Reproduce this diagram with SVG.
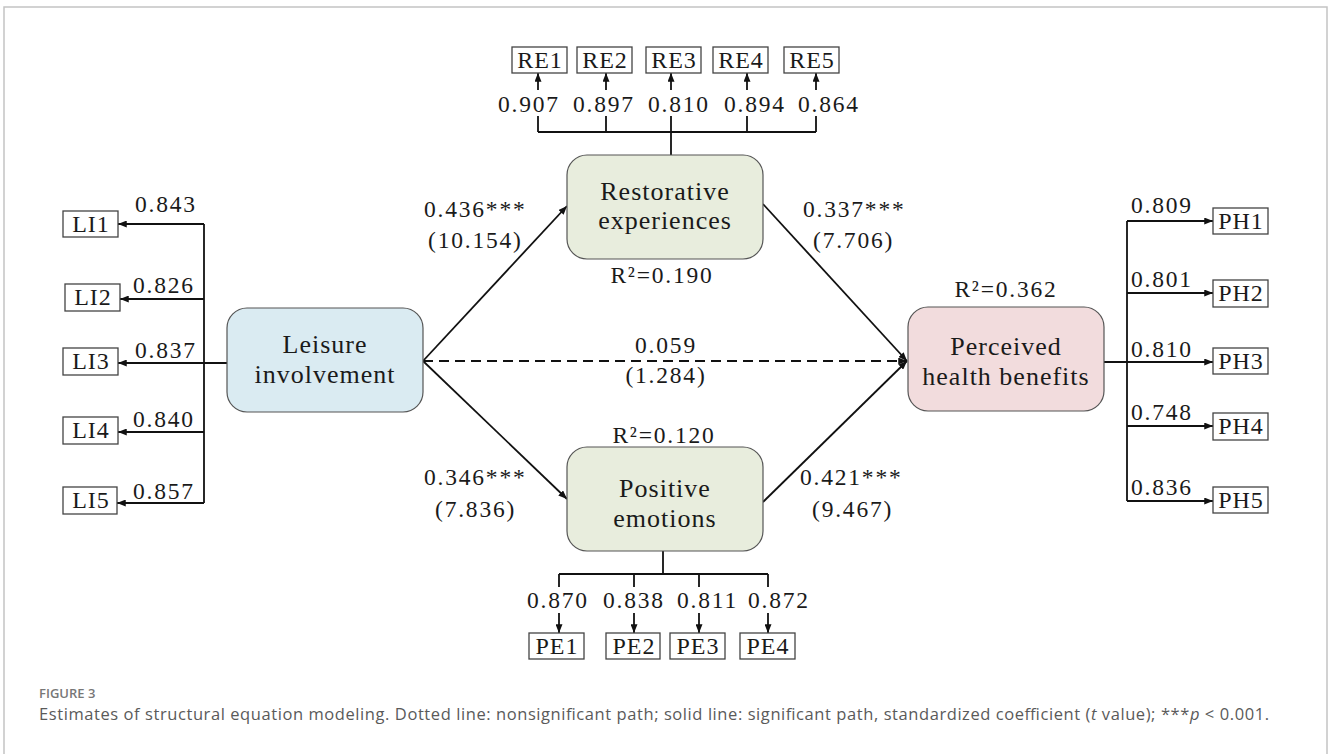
<svg xmlns="http://www.w3.org/2000/svg" width="1328" height="754" viewBox="0 0 1328 754">
<style>
  .frame{fill:none;stroke:#c4c4c4;stroke-width:1.5}
  .ind{fill:#fff;stroke:#444;stroke-width:1.3}
  .lat{stroke:#555;stroke-width:1.2}
  .g{fill:#e8eddd}
  .b{fill:#daebf2}
  .p{fill:#f2dcdd}
  .ln{fill:none;stroke:#111;stroke-width:1.8}
  .dash{stroke-dasharray:10 6}
  .t{font-family:"Liberation Serif","Times New Roman",serif;fill:#1a1a1a}
  .it{font-size:24px;letter-spacing:1px;text-anchor:middle}
  .num{font-size:23.5px;letter-spacing:1.8px}
  .nd{font-size:26px;letter-spacing:1px;text-anchor:middle}
  .mid{text-anchor:middle}
  .cap{font-family:"Open Sans","Liberation Sans",sans-serif}
</style>
<defs>
  <marker id="ah" viewBox="0 0 10 8" refX="10" refY="4" markerWidth="9" markerHeight="7" markerUnits="userSpaceOnUse" orient="auto">
    <path d="M0,0 L10,4 L0,8 Z" fill="#111"/>
  </marker>
</defs>
<rect width="1328" height="754" fill="#fff"/>
<path class="frame" d="M4,760 V7 H1327 V760"/>

<g id="connectors">
  <!-- RE indicators -->
  <path class="ln" d="M671,155 V132 M538,132 H816 M538,132 V116 M606,132 V116 M671,132 V116 M747,132 V116 M816,132 V116"/>
  <line class="ln" x1="538" y1="90" x2="538" y2="73" marker-end="url(#ah)"/>
  <line class="ln" x1="606" y1="90" x2="606" y2="73" marker-end="url(#ah)"/>
  <line class="ln" x1="671" y1="90" x2="671" y2="73" marker-end="url(#ah)"/>
  <line class="ln" x1="747" y1="90" x2="747" y2="73" marker-end="url(#ah)"/>
  <line class="ln" x1="816" y1="90" x2="816" y2="73" marker-end="url(#ah)"/>
  <!-- LI indicators -->
  <path class="ln" d="M204,224 V503"/>
  <line class="ln" x1="204" y1="224" x2="118" y2="224" marker-end="url(#ah)"/>
  <line class="ln" x1="204" y1="299" x2="120" y2="299" marker-end="url(#ah)"/>
  <line class="ln" x1="227" y1="363" x2="118" y2="363" marker-end="url(#ah)"/>
  <line class="ln" x1="204" y1="432" x2="118" y2="432" marker-end="url(#ah)"/>
  <line class="ln" x1="204" y1="503" x2="117" y2="503" marker-end="url(#ah)"/>
  <!-- PH indicators -->
  <path class="ln" d="M1127,221 V501"/>
  <line class="ln" x1="1127" y1="221" x2="1213" y2="221" marker-end="url(#ah)"/>
  <line class="ln" x1="1127" y1="293" x2="1213" y2="293" marker-end="url(#ah)"/>
  <line class="ln" x1="1104" y1="362" x2="1213" y2="362" marker-end="url(#ah)"/>
  <line class="ln" x1="1127" y1="426" x2="1213" y2="426" marker-end="url(#ah)"/>
  <line class="ln" x1="1127" y1="501" x2="1213" y2="501" marker-end="url(#ah)"/>
  <!-- PE indicators -->
  <path class="ln" d="M663,551 V574 M559,574 H768 M559,574 V587 M634,574 V587 M699,574 V587 M768,574 V587"/>
  <line class="ln" x1="559" y1="613" x2="559" y2="633" marker-end="url(#ah)"/>
  <line class="ln" x1="634" y1="613" x2="634" y2="633" marker-end="url(#ah)"/>
  <line class="ln" x1="699" y1="613" x2="699" y2="633" marker-end="url(#ah)"/>
  <line class="ln" x1="768" y1="613" x2="768" y2="633" marker-end="url(#ah)"/>
  <!-- structural paths -->
  <line class="ln" x1="423" y1="361" x2="567" y2="206" marker-end="url(#ah)"/>
  <line class="ln" x1="763" y1="204" x2="907" y2="361" marker-end="url(#ah)"/>
  <line class="ln dash" x1="423" y1="361" x2="907" y2="361" marker-end="url(#ah)"/>
  <line class="ln" x1="423" y1="361" x2="567" y2="499" marker-end="url(#ah)"/>
  <line class="ln" x1="763" y1="502" x2="907" y2="361" marker-end="url(#ah)"/>
</g>

<g id="labels" class="t num">
  <text x="498" y="112">0.907</text>
  <text x="573" y="112">0.897</text>
  <text x="648" y="112">0.810</text>
  <text x="724" y="112">0.894</text>
  <text x="798" y="112">0.864</text>
  <text x="135" y="212">0.843</text>
  <text x="133" y="293">0.826</text>
  <text x="135" y="358">0.837</text>
  <text x="133" y="427">0.840</text>
  <text x="133" y="499">0.857</text>
  <text x="1131" y="213">0.809</text>
  <text x="1131" y="287">0.801</text>
  <text x="1131" y="357">0.810</text>
  <text x="1131" y="420">0.748</text>
  <text x="1131" y="495">0.836</text>
  <text x="527" y="608">0.870</text>
  <text x="603" y="608">0.838</text>
  <text x="677" y="608">0.811</text>
  <text x="748" y="608">0.872</text>
  <text x="424" y="217">0.436***</text>
  <text x="428" y="248">(10.154)</text>
  <text x="803" y="217">0.337***</text>
  <text x="813" y="248">(7.706)</text>
  <text x="666" y="353" class="mid">0.059</text>
  <text x="666" y="383" class="mid">(1.284)</text>
  <text x="424" y="485">0.346***</text>
  <text x="435" y="517">(7.836)</text>
  <text x="800" y="485">0.421***</text>
  <text x="812" y="517">(9.467)</text>
  <text x="662" y="283" class="mid">R²=0.190</text>
  <text x="1006" y="297" class="mid">R²=0.362</text>
  <text x="664" y="443" class="mid">R²=0.120</text>
</g>

<g id="node-LI">
  <rect class="lat b" x="227" y="308" width="196" height="104" rx="20"/>
  <text class="t nd" x="325" y="353">Leisure</text>
  <text class="t nd" x="325" y="383">involvement</text>
</g>
<g id="node-RE">
  <rect class="lat g" x="567" y="155" width="196" height="104" rx="20"/>
  <text class="t nd" x="665" y="200">Restorative</text>
  <text class="t nd" x="665" y="229">experiences</text>
</g>
<g id="node-PE">
  <rect class="lat g" x="567" y="447" width="196" height="104" rx="20"/>
  <text class="t nd" x="665" y="497">Positive</text>
  <text class="t nd" x="665" y="527">emotions</text>
</g>
<g id="node-PH">
  <rect class="lat p" x="908" y="307" width="196" height="104" rx="20"/>
  <text class="t nd" x="1006" y="355">Perceived</text>
  <text class="t nd" x="1006" y="385">health benefits</text>
</g>

<g id="node-RE1"><rect class="ind" x="512" y="47" width="55" height="26"/><text class="t it" x="540" y="68">RE1</text></g>
<g id="node-RE2"><rect class="ind" x="577" y="47" width="55" height="26"/><text class="t it" x="605" y="68">RE2</text></g>
<g id="node-RE3"><rect class="ind" x="646" y="47" width="55" height="26"/><text class="t it" x="674" y="68">RE3</text></g>
<g id="node-RE4"><rect class="ind" x="713" y="47" width="55" height="26"/><text class="t it" x="741" y="68">RE4</text></g>
<g id="node-RE5"><rect class="ind" x="784" y="47" width="55" height="26"/><text class="t it" x="812" y="68">RE5</text></g>

<g id="node-LI1"><rect class="ind" x="63" y="211" width="55" height="26"/><text class="t it" x="91" y="232">LI1</text></g>
<g id="node-LI2"><rect class="ind" x="65" y="284" width="55" height="27"/><text class="t it" x="93" y="305">LI2</text></g>
<g id="node-LI3"><rect class="ind" x="63" y="348" width="55" height="27"/><text class="t it" x="91" y="369">LI3</text></g>
<g id="node-LI4"><rect class="ind" x="63" y="417" width="55" height="27"/><text class="t it" x="91" y="438">LI4</text></g>
<g id="node-LI5"><rect class="ind" x="63" y="487" width="54" height="27"/><text class="t it" x="91" y="508">LI5</text></g>

<g id="node-PH1"><rect class="ind" x="1213" y="208" width="55" height="26"/><text class="t it" x="1241" y="229">PH1</text></g>
<g id="node-PH2"><rect class="ind" x="1213" y="280" width="55" height="27"/><text class="t it" x="1241" y="301">PH2</text></g>
<g id="node-PH3"><rect class="ind" x="1213" y="348" width="55" height="26"/><text class="t it" x="1241" y="369">PH3</text></g>
<g id="node-PH4"><rect class="ind" x="1213" y="413" width="55" height="27"/><text class="t it" x="1241" y="434">PH4</text></g>
<g id="node-PH5"><rect class="ind" x="1213" y="487" width="55" height="26"/><text class="t it" x="1241" y="508">PH5</text></g>

<g id="node-PE1"><rect class="ind" x="529" y="633" width="55" height="26"/><text class="t it" x="557" y="654">PE1</text></g>
<g id="node-PE2"><rect class="ind" x="606" y="633" width="54" height="26"/><text class="t it" x="634" y="654">PE2</text></g>
<g id="node-PE3"><rect class="ind" x="670" y="633" width="55" height="26"/><text class="t it" x="698" y="654">PE3</text></g>
<g id="node-PE4"><rect class="ind" x="740" y="633" width="55" height="26"/><text class="t it" x="768" y="654">PE4</text></g>

<g id="caption">
  <text class="cap" x="39" y="698" font-size="13" font-weight="600" fill="#777">FIGURE 3</text>
  <text class="cap" x="39" y="720" font-size="16.5" fill="#5a5a5a" textLength="1230" lengthAdjust="spacing">Estimates of structural equation modeling. Dotted line: nonsignificant path; solid line: significant path, standardized coefficient (<tspan font-style="italic">t</tspan> value); ***<tspan font-style="italic">p</tspan> &lt; 0.001.</text>
</g>
</svg>
